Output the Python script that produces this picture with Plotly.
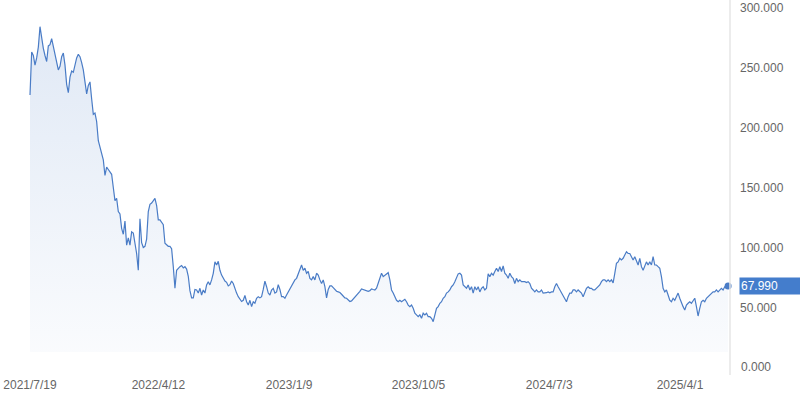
import pandas as pd
import plotly.graph_objects as go

start_date = "2021-07-19"
end_date = "2025-07-10"

seg_2021 = [227, 263, 260, 252, 258, 267, 284, 274, 266, 260, 255, 268, 269, 274, 268, 262, 254, 248,
            251, 259, 262, 252, 236, 229, 242, 247, 246, 252, 258, 261, 259, 254, 248, 238, 228, 235,
            238, 224, 211, 212, 205, 189, 184, 178, 173, 160, 167, 165, 163, 161, 150, 139, 141, 130,
            128, 116, 111, 122, 102, 108, 102, 113, 112, 105, 95, 81, 124, 104, 100]
seg_2022 = [101, 107, 130, 136, 137, 139, 141, 135, 123, 123, 121, 119, 103.5, 102, 101, 101, 99, 84,
            66, 81, 83, 84, 85, 83, 84, 82, 76, 64, 58, 58, 65, 64.6, 62, 66, 60.4, 64.6, 62, 68.8,
            71.5, 68.8, 73, 78.5, 88, 85.4, 88.5, 81, 77, 74, 72, 71, 68, 69, 72, 70, 65, 62, 59, 57,
            55, 56, 60, 54.8, 52, 56, 50.7, 54.8, 53.5, 57.7, 59]
seg_2023a = [58, 59, 65, 72, 67.3, 62, 60.4, 64.6, 66, 62, 63, 69, 65, 59, 59, 57.7, 60.4, 63, 66,
             67.3, 70, 73, 74.3, 78.5, 81, 85.4, 81, 82.7, 78.5, 80, 74.3, 73, 75.7, 73, 78.5, 77, 73,
             70, 73, 67.3, 58, 65, 68, 68, 66.5, 65, 63.5, 63, 62.5, 61, 59.5, 58, 57.7, 56.5, 55,
             55.5, 57, 58.5, 60, 61.5, 63.5, 65.5, 65, 65, 64.6, 63.5, 64, 65.5, 65]
seg_2023b = [64.6, 66, 70, 75.7, 78.5, 75.7, 77, 78.5, 79, 73, 64.6, 62, 59, 56, 54.8, 56, 54.8, 56,
             56.8, 54.8, 52, 50.7, 52, 49.3, 45.2, 43.8, 42.3, 43.8, 41, 45.2, 43.8, 45.2, 42.3, 42.3,
             41, 38.2, 45.2, 49.3, 50.7, 53.5, 54.8, 57.7, 59, 62, 63, 64.6, 67.3, 68.8, 71.5, 74.3,
             78, 78.5, 77, 68.8, 67.3, 66, 68.8, 64.6, 67.3, 62, 67.3, 64.6, 67.3, 63, 66, 67.3, 64.6,
             66, 78]
seg_2024 = [75.7, 78.5, 77, 80, 82.7, 80, 84, 80, 84.6, 78.5, 77, 74.3, 78.5, 75.7, 74.3, 70, 74.3,
            71.5, 73, 71.5, 71.5, 71.5, 70.7, 71.5, 70, 66, 64.6, 63, 64.6, 63, 63, 64.6, 62, 62, 62.3,
            63, 62.3, 63, 63, 67.3, 70, 67.3, 64.6, 63, 60.4, 57.7, 54.8, 59, 62, 62, 64.6, 64.6, 63,
            64.6, 63, 62, 59, 63, 66, 67.3, 66, 66, 64.6, 64.6, 66, 67.3, 68.8, 71.5, 73]
seg_2025 = [73, 71.5, 73, 71.5, 73, 70.5, 78.5, 86.8, 88, 91, 89.6, 91, 93.8, 96.5, 95, 95, 92.3,
            89.6, 92.3, 88, 85.4, 91, 84, 81, 85.4, 88, 85.4, 88, 85.4, 92.3, 85.4, 85.4, 84, 82.7,
            75.7, 66, 63, 64.6, 60.4, 56, 54.8, 57.7, 56, 59, 62, 57.7, 53.5, 50.7, 47.9, 52, 53.5,
            54.8, 53.5, 56, 57.7, 50.7, 42.9, 49.3, 54.8, 56, 54.8, 57.7, 59, 60.4, 62, 63, 63, 64.6,
            63, 64.6, 66, 64.6, 67.3, 66.5]
last_price = 67.99

tick_dates = ["2021-07-19", "2022-04-12", "2023-01-09", "2023-10-05", "2024-07-03", "2025-04-01"]
tick_labels = ["2021/7/19", "2022/4/12", "2023/1/9", "2023/10/5", "2024/7/3", "2025/4/1"]
y_ticks = [50, 100, 150, 200, 250, 300]

values = seg_2021 + seg_2022 + seg_2023a + seg_2023b + seg_2024 + seg_2025 + [last_price]
dates = pd.date_range(start_date, end_date, periods=len(values))

LINE = "#4a7cc6"
TAG = "#447dcc"
TXT = "#666666"
FONT = "Liberation Sans, Arial, sans-serif"

y_min, y_max = 12.9, 306.25
x0 = pd.Timestamp(start_date) - pd.Timedelta(days=62.4)
x1 = pd.Timestamp(start_date) + pd.Timedelta(days=1456)

fig = go.Figure()
fig.add_trace(go.Scatter(
    x=dates, y=values, mode="lines",
    line=dict(color=LINE, width=1.2),
    fill="tozeroy",
    fillgradient=dict(type="vertical", start=y_min, stop=285,
                      colorscale=[[0, "rgba(74,124,198,0.03)"], [1, "rgba(74,124,198,0.17)"]]),
    hoverinfo="skip", showlegend=False,
))
fig.add_trace(go.Scatter(
    x=[dates[-1]], y=[last_price], mode="markers",
    marker=dict(color=LINE, size=7), cliponaxis=False,
    hoverinfo="skip", showlegend=False,
))

fig.update_layout(
    width=800, height=400,
    margin=dict(l=0, r=70, t=0, b=48),
    paper_bgcolor="white", plot_bgcolor="white",
    font=dict(family=FONT, size=12, color=TXT),
    xaxis=dict(type="date", range=[x0, x1], tickvals=tick_dates, ticktext=tick_labels,
               showgrid=False, zeroline=False, showline=False, ticks="",
               ticklabelstandoff=24, tickfont=dict(size=12, color=TXT)),
    yaxis=dict(side="right", range=[y_min, y_max], tickvals=y_ticks, tickformat=".3f",
               showgrid=False, zeroline=False, showline=False, ticks="",
               ticklabelstandoff=9, tickfont=dict(size=12, color=TXT)),
    shapes=[dict(type="line", xref="paper", yref="paper", x0=1, x1=1,
                 y0=-23 / 352, y1=1, line=dict(color="#e6e6e6", width=1.5))],
    annotations=[
        dict(xref="paper", yref="paper", x=1, y=(0 - y_min) / (y_max - y_min),
             xanchor="left", yanchor="middle", xshift=9, text="0.000", showarrow=False,
             font=dict(size=12, color=TXT)),
        dict(xref="paper", yref="y", x=1, y=last_price, xanchor="left", yanchor="middle",
             xshift=9, text=f"{last_price:.3f}", showarrow=False, align="left",
             width=62, height=14, bgcolor=TAG, borderpad=1,
             font=dict(size=12, color="white")),
    ],
)

fig.write_html("out.html", config={"displayModeBar": False},
               post_script="document.body.style.margin='0';document.body.style.overflow='hidden';")
